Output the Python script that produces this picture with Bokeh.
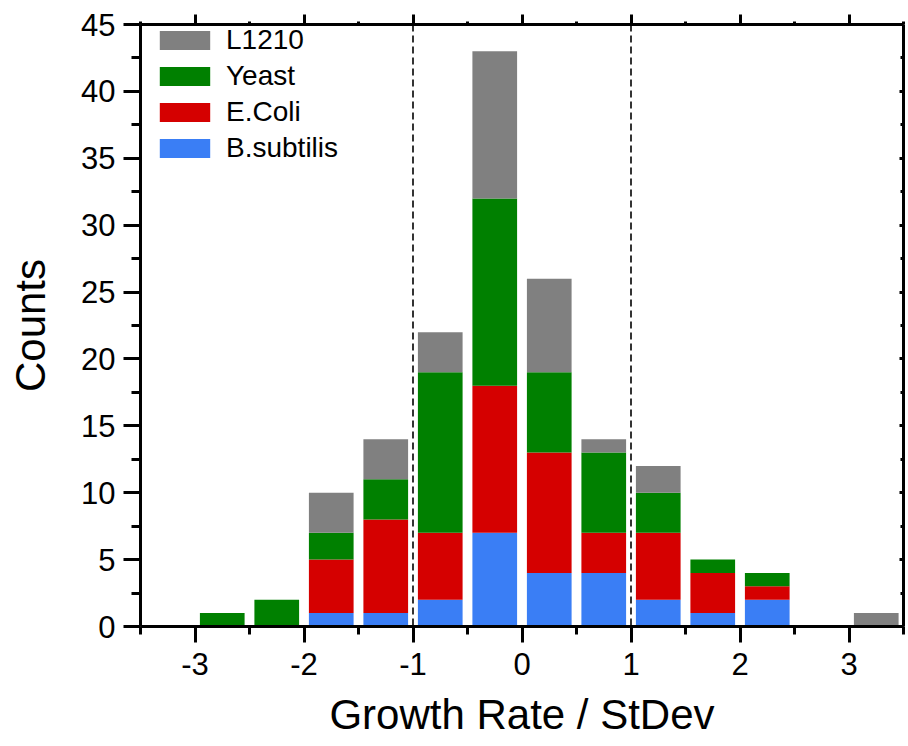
from bokeh.plotting import figure
from bokeh.models import (ColumnDataSource, FixedTicker, LinearAxis, Legend, LegendItem,
                          Span, Range1d, CustomJSTickFormatter)
from bokeh.embed import file_html
from bokeh.resources import INLINE

# ---- data ----
bin_centers = [-2.75, -2.25, -1.75, -1.25, -0.75, -0.25, 0.25, 0.75, 1.25, 1.75, 2.25, 2.75, 3.25]
bsubtilis   = [0, 0, 1, 1, 2, 7, 4, 4, 2, 1, 2, 0, 0]
ecoli       = [0, 0, 4, 7, 5, 11, 9, 3, 5, 3, 1, 0, 0]
yeast       = [1, 2, 2, 3, 12, 14, 6, 6, 3, 1, 1, 0, 0]
l1210       = [0, 0, 3, 3, 3, 11, 7, 1, 2, 0, 0, 0, 1]
series_names = ["B.subtilis", "E.Coli", "Yeast", "L1210"]
series_colors = ["#3a7ef5", "#d50000", "#008000", "#808080"]
x_ticks = [-3, -2, -1, 0, 1, 2, 3]
x_tick_labels = ["-3", "-2", "-1", "0", "1", "2", "3"]
x_minor = [-3.5, -2.5, -1.5, -0.5, 0.5, 1.5, 2.5, 3.5]
y_ticks = [0, 5, 10, 15, 20, 25, 30, 35, 40, 45]
y_minor = [2.5, 7.5, 12.5, 17.5, 22.5, 27.5, 32.5, 37.5, 42.5]
marker_lines = [-1, 1]

source = ColumnDataSource(dict(x=bin_centers, **{
    "B.subtilis": bsubtilis, "E.Coli": ecoli, "Yeast": yeast, "L1210": l1210}))

FONT = "Liberation Sans"

p = figure(width=908, height=746, output_backend="svg", toolbar_location=None,
           x_range=Range1d(-3.5, 3.5), y_range=Range1d(0, 45),
           min_border_left=140, min_border_right=5, min_border_top=24, min_border_bottom=120,
           x_axis_label="Growth Rate / StDev", y_axis_label="Counts")
p.outline_line_color = None
p.xgrid.visible = False
p.ygrid.visible = False

rs = p.vbar_stack(series_names, x="x", width=0.41, source=source,
                  color=series_colors, line_color=None)

for v in marker_lines:
    p.add_layout(Span(location=v, dimension="height", line_color="black",
                      line_width=1.6, line_dash="7 4"))

def style_axis(ax, major_out, minor_out, major_in=0, minor_in=0, labels=True):
    ax.axis_line_width = 3
    ax.axis_line_color = "black"
    ax.major_tick_line_width = 3
    ax.minor_tick_line_width = 3
    ax.major_tick_out = major_out
    ax.minor_tick_out = minor_out
    ax.major_tick_in = major_in
    ax.minor_tick_in = minor_in
    ax.major_label_text_font = FONT
    ax.major_label_text_color = "black"
    ax.major_label_text_font_size = "31px"
    if not labels:
        ax.formatter = CustomJSTickFormatter(code="return ''")
        ax.major_label_standoff = 0
    ax.axis_label_text_font = FONT
    ax.axis_label_text_font_size = "42px"
    ax.axis_label_text_font_style = "normal"
    ax.axis_label_text_color = "black"

xa = p.xaxis[0]
xa.ticker = FixedTicker(ticks=x_ticks, minor_ticks=x_minor)
xa.major_label_overrides = {t: s for t, s in zip(x_ticks, x_tick_labels)}
style_axis(xa, 16, 8)
xa.major_label_standoff = 10
xa.axis_label_standoff = 13

ya = p.yaxis[0]
ya.ticker = FixedTicker(ticks=y_ticks, minor_ticks=y_minor)
style_axis(ya, 17, 9)
ya.major_label_standoff = 8
ya.axis_label_standoff = 24

top = LinearAxis(ticker=FixedTicker(ticks=x_ticks, minor_ticks=x_minor))
style_axis(top, 10, 3, labels=False)
p.add_layout(top, "above")

right = LinearAxis(ticker=FixedTicker(ticks=y_ticks, minor_ticks=y_minor))
style_axis(right, 0, 0, major_in=4, minor_in=3, labels=False)
p.add_layout(right, "right")

items = [LegendItem(label=n, renderers=[r]) for n, r in zip(series_names, rs)][::-1]
legend = Legend(items=items, location=(13, 462))
legend.label_text_font = FONT
legend.label_text_font_size = "28px"
legend.label_text_color = "black"
legend.glyph_width = 63
legend.glyph_height = 24
legend.label_standoff = 10
legend.spacing = 4
legend.padding = 0
legend.margin = 0
legend.border_line_color = None
legend.background_fill_alpha = 0
p.add_layout(legend)

open("out.html", "w").write(file_html(p, INLINE))
